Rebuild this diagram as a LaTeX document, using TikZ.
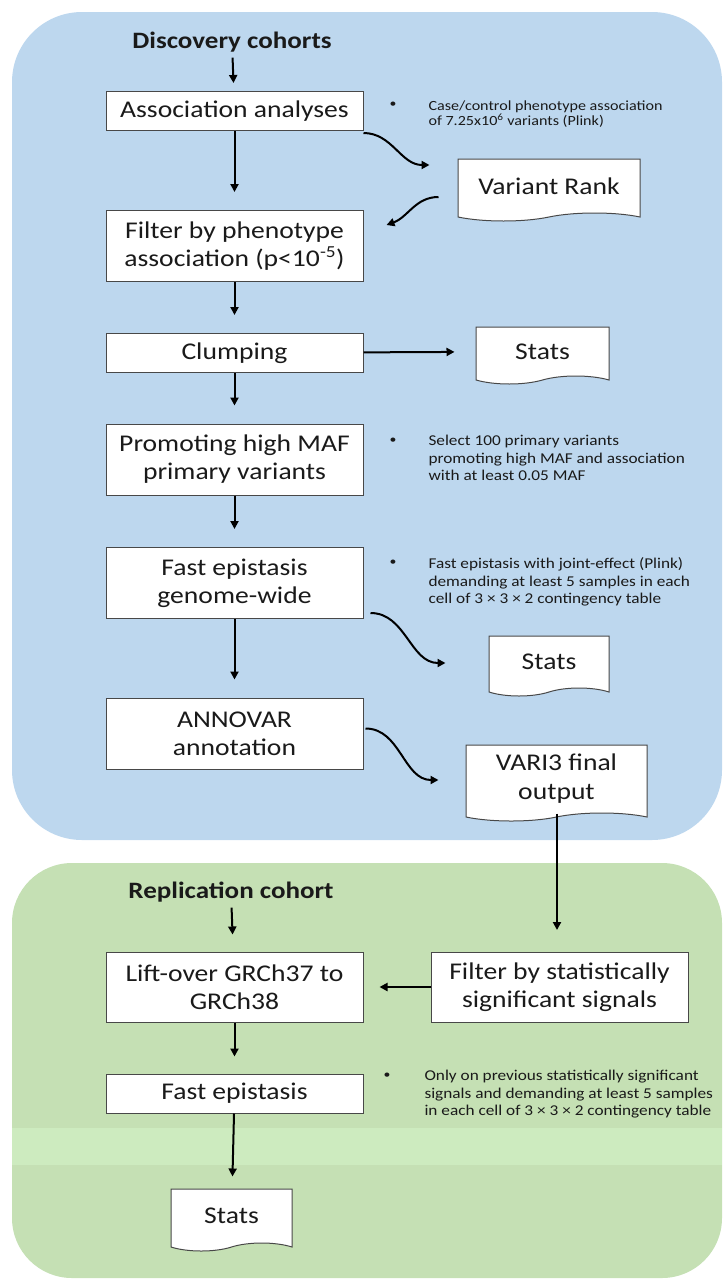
\documentclass[tikz,border=0pt]{standalone}
\usepackage{fontspec}
\setmainfont{Carlito}[FakeStretch=1.15]
\newfontfamily\notefont{Carlito}[FakeStretch=1.15]
\usetikzlibrary{positioning,arrows.meta,shapes.symbols}

\definecolor{bluebg}{HTML}{BDD7EE}
\definecolor{greenbg}{HTML}{C5E0B4}
\definecolor{greenband}{HTML}{CDEBBF}
\definecolor{ink}{HTML}{1A1A1A}

\begin{document}
\begin{tikzpicture}[x=1pt,y=1pt,
  every node/.style={text=ink},
  proc/.style={draw=ink!80, fill=white, line width=1pt, minimum width=257pt,
    align=center, font=\fontsize{24}{28}\selectfont, inner sep=0pt},
  docu/.style={tape, tape bend top=none, tape bend bottom=in and out,
    tape bend height=8pt, draw=ink!80, fill=white, line width=1pt,
    align=center, font=\fontsize{24}{29}\selectfont, inner sep=0pt},
  head/.style={font=\fontsize{23.5}{26}\selectfont\bfseries},
  note/.style={font=\notefont\fontsize{15}{17.5}\selectfont, align=left, anchor=north west},
  dot/.style={font=\fontsize{12}{12}\selectfont},
  flow/.style={line width=2pt, -{Triangle[length=8pt,width=8pt]}, shorten >=18pt},
  wave/.style={line width=2pt, -{Triangle[length=8pt,width=8pt]}},
  ]
  \useasboundingbox (0,0) rectangle (725,-1282);
  % backgrounds
  \fill[bluebg, rounded corners=70pt] (12,-12) rectangle (722,-840);
  \fill[greenbg, rounded corners=60pt] (12,-863) rectangle (722,-1278);
  \fill[greenband] (12,-1128) rectangle (722,-1165);

  % discovery part
  \node[head] (disc) at (232,-42) {Discovery cohorts};
  \node[proc, minimum height=39pt] (assoc) at (234.5,-111) {Association analyses};
  \node[proc, minimum height=71pt] (filt) at (234.5,-246) {Filter by phenotype\\association (p<10\textsuperscript{-5})};
  \node[proc, minimum height=39pt] (clump) at (234.5,-353) {Clumping};
  \node[proc, minimum height=71pt] (maf) at (234.5,-459.5) {Promoting high MAF\\primary variants};
  \node[proc, minimum height=71pt] (epi) at (234.5,-583) {Fast epistasis\\genome-wide};
  \node[proc, minimum height=71pt] (anno) at (234.5,-733.5) {ANNOVAR\\annotation};

  \node[docu, minimum width=182pt, minimum height=62pt] (rank) at (549,-186) {Variant Rank};
  \node[docu, minimum width=133pt, minimum height=57pt] (stats1) at (542.5,-351.5) {Stats};
  \node[docu, minimum width=120pt, minimum height=60pt] (stats2) at (549,-662) {Stats};
  \node[docu, minimum width=181pt, minimum height=76pt] (final) at (556.5,-779) {VARI3 final\\output};

  % notes
  \node[dot] (b1) at (393,-105) {\textbullet};
  \node[note, font=\notefont\fontsize{14}{12.5}\selectfont] (n1) at (425,-97) {Case/control phenotype association\\of 7.25x10\textsuperscript{6} variants (Plink)};
  \node[dot] (b2) at (393,-441) {\textbullet};
  \node[note] (n2) at (425,-432) {Select 100 primary variants\\promoting high MAF and association\\with at least 0.05 MAF};
  \node[dot] (b3) at (393,-563) {\textbullet};
  \node[note] (n3) at (425,-554) {Fast epistasis with joint-effect (Plink)\\demanding at least 5 samples in each\\cell of 3 × 3 × 2 contingency table};

  % replication part
  \node[head] (repl) at (231,-892) {Replication cohort};
  \node[proc, minimum height=70pt] (lift) at (234.5,-987) {Lift-over GRCh37 to\\GRCh38};
  \node[proc, minimum height=70pt] (sig) at (559.5,-987) {Filter by statistically\\significant signals};
  \node[proc, minimum height=39pt] (epi2) at (234.5,-1093.5) {Fast epistasis};
  \node[docu, minimum width=121pt, minimum height=62pt] (stats3) at (231.5,-1216) {Stats};
  \node[dot] (b4) at (387,-1076) {\textbullet};
  \node[note] (n4) at (421,-1067) {Only on previous statistically significant\\signals and demanding at least 5 samples\\in each cell of 3 × 3 × 2 contingency table};

  % connectors
  \draw[flow, shorten <=2pt, shorten >=8pt] (disc) -- (assoc);
  \draw[flow] (assoc) -- (filt);
  \draw[flow] (filt) -- (clump);
  \draw[flow] (clump) -- (maf);
  \draw[flow] (maf) -- (epi);
  \draw[flow] (epi) -- (anno);
  \draw[flow, shorten >=21pt] (clump) -- (stats1);
  \draw[wave] ([yshift=-2pt]assoc.south east) to[out=0,in=180] ([xshift=-28pt,yshift=21pt]rank.west);
  \draw[wave] ([xshift=-19pt,yshift=-11pt]rank.west) to[out=180,in=20] ([xshift=23pt,yshift=21pt]filt.east);
  \draw[wave] ([xshift=7pt,yshift=6pt]epi.south east) to[out=0,in=180] ([xshift=-43pt,yshift=-1pt]stats2.west);
  \draw[wave] ([xshift=2pt,yshift=5pt]anno.east) to[out=0,in=180] ([xshift=-27pt,yshift=-1pt]final.west);
  \draw[flow, shorten >=22pt] (final.south -| 557,0) -- (557,-952);
  \draw[flow, shorten <=2pt, shorten >=17pt] (repl) -- (lift);
  \draw[flow, shorten >=16pt] (sig) -- (lift);
  \draw[flow, shorten >=17pt] (lift) -- (epi2);
  \draw[flow, shorten >=12pt] (epi2) -- (stats3);
\end{tikzpicture}
\end{document}
